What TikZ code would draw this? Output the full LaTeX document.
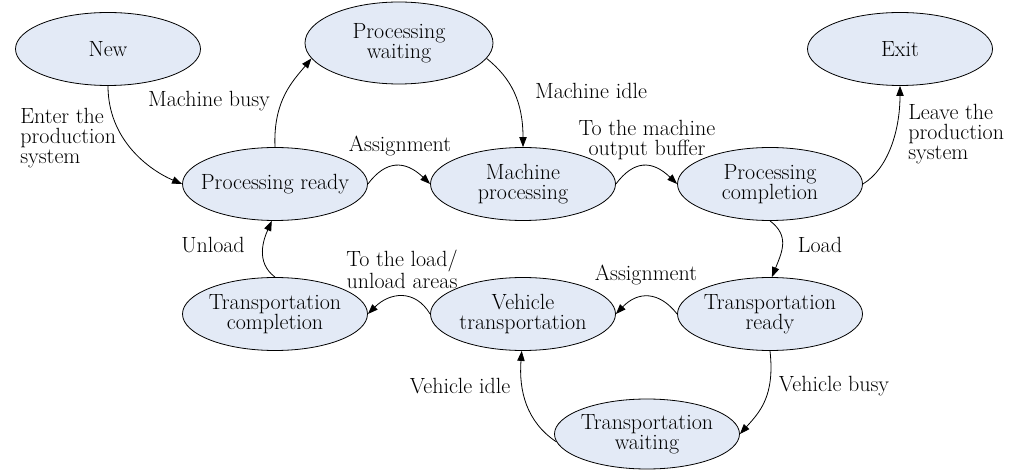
\documentclass[tikz,border=0pt]{standalone}
\usepackage{fontspec}
\usetikzlibrary{arrows.meta,shapes.geometric}
\definecolor{statefill}{RGB}{227,234,246}
\newcommand\diagfont{\fontsize{16.5}{15}\selectfont}
\tikzset{
  state/.style={ellipse, draw, line width=0.6pt, fill=statefill,
    minimum width=138.75pt, minimum height=54.75pt,
    inner xsep=-12pt, inner ysep=0pt, align=center,
    font=\diagfont},
  trans/.style={draw, line width=0.6pt, -{Triangle[length=7.5pt,width=5.5pt]}},
  lbl/.style={inner sep=0pt, font=\diagfont, align=center},
}
\begin{document}
\begin{tikzpicture}[x=0.75pt,y=-0.75pt]
\path[use as bounding box] (0,0) rectangle (1017,470);

% states
\node[state] (new)  at (108,49)  {New};
\node[state, minimum width=141pt, minimum height=61.5pt] (pw) at (399,43) {Processing\\waiting};
\node[state] (exit) at (900,49)  {Exit};
\node[state] (pr)   at (275,184) {Processing ready};
\node[state] (mp)   at (523,184) {Machine\\processing};
\node[state] (pc)   at (770,184) {Processing\\completion};
\node[state] (tc)   at (275,314) {Transportation\\completion};
\node[state] (vt)   at (523,314) {Vehicle\\transportation};
\node[state] (tr)   at (770,314) {Transportation\\ready};
\node[state, minimum height=52.5pt] (tw) at (647,434) {Transportation\\waiting};

% transitions
\draw[trans] (new.south) .. controls +(0,54) and +(-33,-14) .. (pr.west);
\draw[trans] (pr.north) .. controls +(-2,-47) and +(-18,22) .. (pw.190);
\draw[trans] (pw.-10) .. controls +(25,20) and +(0,-45) .. (mp.north);
\draw[trans] (pr.east) .. controls +(18,-24) and +(-25,-24) .. (mp.west);
\draw[trans] (mp.east) .. controls +(18,-24) and +(-25,-24) .. (pc.west);
\draw[trans] (pc.east) .. controls +(25,-15) and +(0,45) .. (exit.south);
\draw[trans] (pc.south) .. controls +(20,15) and +(10,-25) .. (tr.87);
\draw[trans] (tr.west) .. controls +(-18,-23) and +(22,-23) .. (vt.east);
\draw[trans] (vt.west) .. controls +(-15,-25) and +(22,-22) .. (tc.east);
\draw[trans] (tc.north) .. controls +(-20,-15) and +(-8,18) .. (pr.265);
\draw[trans] (tr.south) .. controls +(5,45) and +(20,-22) .. (tw.east);
\draw[trans] (tw.185) .. controls +(-30,-20) and +(-3,40) .. (vt.268);

% transition labels
\node[lbl, anchor=west, align=left] (l-enter) at (20,138) {Enter the\\production\\system};
\node[lbl] (l-mbusy)  at (209,101) {Machine busy};
\node[lbl] (l-midle)  at (591,91)  {Machine idle};
\node[lbl] (l-assign1) at (400,146) {Assignment};
\node[lbl] (l-outbuf) at (647,140) {To the machine\\output buffer};
\node[lbl, anchor=west, align=left] (l-leave) at (908,134) {Leave the\\production\\system};
\node[lbl] (l-load)   at (820,245) {Load};
\node[lbl] (l-assign2) at (646,275) {Assignment};
\node[lbl] (l-areas)  at (402,269) {To the load/\\unload areas};
\node[lbl] (l-unload) at (213,245) {Unload};
\node[lbl] (l-vbusy)  at (834,386) {Vehicle busy};
\node[lbl] (l-vidle)  at (460,386) {Vehicle idle};
\end{tikzpicture}
\end{document}
